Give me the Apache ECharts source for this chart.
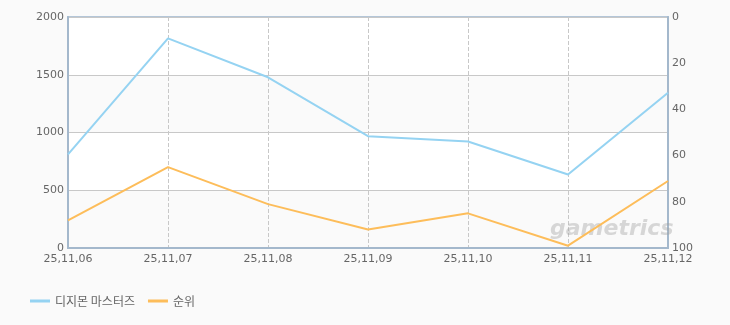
<!DOCTYPE html>
<html><head><meta charset="utf-8">
<script src="https://cdn.jsdelivr.net/npm/echarts@6/dist/echarts.min.js"></script>
<style>html,body{margin:0;padding:0;background:#fafafa;}#c{width:730px;height:325px;}</style>
</head><body><div id="c"></div>
<script>
var categories = ['25,11,06','25,11,07','25,11,08','25,11,09','25,11,10','25,11,11','25,11,12'];
var viewers = [810, 1815, 1478, 968, 922, 636, 1345];
var rank = [88, 65, 81, 92, 85, 99, 71];
var leftTicks = [0, 500, 1000, 1500, 2000];
var rightTicks = [0, 20, 40, 60, 80, 100];

var chart = echarts.init(document.getElementById('c'));
var font = '"Noto Sans CJK KR", "DejaVu Sans", sans-serif';
chart.setOption({
  backgroundColor: '#fafafa',
  animation: false,
  textStyle: {fontFamily: font},
  grid: {left: 68, right: 62, top: 17, bottom: 77, show: true, backgroundColor: '#ffffff', borderColor: '#b4c6d8', borderWidth: 2},
  legend: {
    left: 25, top: 290, itemWidth: 20, itemHeight: 10, itemGap: 13,
    textStyle: {color: '#666', fontSize: 12, fontFamily: font},
    data: [
      {name: '디지몬 마스터즈', icon: 'path://M0,0 L20,0 L20,3 L0,3 Z'},
      {name: '순위', icon: 'path://M0,0 L20,0 L20,3 L0,3 Z'}
    ]
  },
  xAxis: {
    type: 'category', data: categories, boundaryGap: false,
    axisLine: {show: true, lineStyle: {color: '#a4b8cc', width: 2}},
    axisTick: {show: false},
    axisLabel: {color: '#666', fontSize: 11, margin: 6, fontFamily: 'DejaVu Sans'},
    splitLine: {show: true, lineStyle: {color: '#c8c8c8', type: 'dashed'}}
  },
  yAxis: [{
    type: 'value', min: 0, max: 2000, interval: 500,
    axisLine: {show: true, lineStyle: {color: '#a4b8cc', width: 2}},
    axisTick: {show: false},
    axisLabel: {color: '#666', fontSize: 11, margin: 4, fontFamily: 'DejaVu Sans',
      formatter: function(v){ return leftTicks.indexOf(v) >= 0 ? String(v) : ''; }},
    splitLine: {show: true, lineStyle: {color: '#c8c8c8'}},
    splitArea: {show: true, areaStyle: {color: ['#fafafa', '#ffffff']}}
  }, {
    type: 'value', min: 0, max: 100, interval: 20, inverse: true,
    axisLine: {show: true, lineStyle: {color: '#a4b8cc', width: 2}},
    axisTick: {show: false},
    axisLabel: {color: '#666', fontSize: 11, margin: 4, fontFamily: 'DejaVu Sans',
      formatter: function(v){ return rightTicks.indexOf(v) >= 0 ? String(v) : ''; }},
    splitLine: {show: false}
  }],
  graphic: [{
    type: 'text', left: 550, top: 218, z: 1,
    style: {text: 'gametrics', fill: 'rgba(160,160,160,0.4)', font: 'italic bold 22px "DejaVu Sans"'}
  }],
  series: [{
    name: '디지몬 마스터즈', type: 'line', yAxisIndex: 0, data: viewers,
    symbol: 'none', lineStyle: {color: '#95d3f2', width: 2}, itemStyle: {color: '#95d3f2'}, z: 3
  }, {
    name: '순위', type: 'line', yAxisIndex: 1, data: rank,
    symbol: 'none', lineStyle: {color: '#fdbd5a', width: 2}, itemStyle: {color: '#fdbd5a'}, z: 3
  }]
});
</script></body></html>
